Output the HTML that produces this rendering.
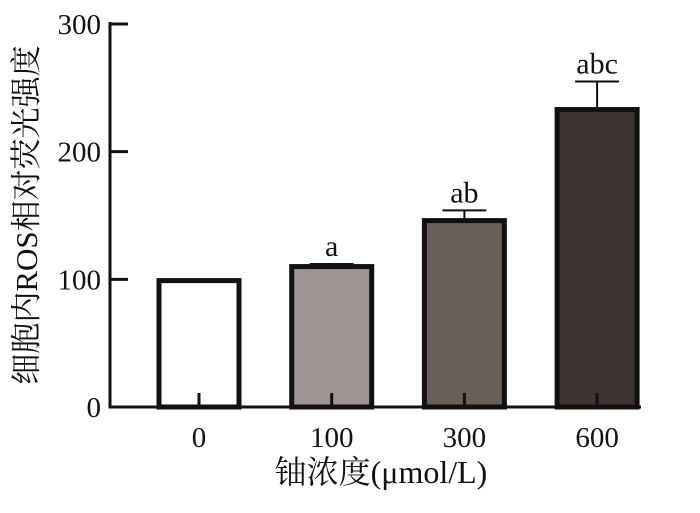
<!DOCTYPE html>
<html><head><meta charset="utf-8"><style>
body{margin:0;background:#fff;}
svg text{font-family:"Liberation Serif","Noto Serif CJK SC",serif;fill:#111;}
</style></head><body>
<svg width="700" height="508" id="chart"></svg>
<script>
const categories=["0","100","300","600"];
const values=[99,110,146,233];
const errors=[0,2,8,22];
const sigLabels=["","a","ab","abc"];
const yTicks=[0,100,200,300];
const fills=["#ffffff","#9d9594","#6a5f5b","#3b3431"];
const NS="http://www.w3.org/2000/svg";
const svg=document.getElementById('chart');
function y(v){return 407-v*(383/300);}
function xc(i){return 199+i*132.7;}
function mk(t,a,txt){const e=document.createElementNS(NS,t);for(const k in a)e.setAttribute(k,a[k]);if(txt!==undefined)e.textContent=txt;svg.appendChild(e);return e;}
categories.forEach((c,i)=>{
 const cx=xc(i),w=80;
 const b=mk('rect',{x:cx-w/2,y:y(values[i]),width:w,height:407-y(values[i]),fill:fills[i],stroke:'#111','stroke-width':5});
 
 
 if(errors[i]>0){
  const g=mk('g',{stroke:'#111','stroke-width':2});
  
  
  const l1=document.createElementNS(NS,'line');l1.setAttribute('x1',cx);l1.setAttribute('x2',cx);l1.setAttribute('y1',y(values[i]));l1.setAttribute('y2',y(values[i]+errors[i]));g.appendChild(l1);
  const l2=document.createElementNS(NS,'line');l2.setAttribute('x1',cx-22);l2.setAttribute('x2',cx+22);l2.setAttribute('y1',y(values[i]+errors[i]));l2.setAttribute('y2',y(values[i]+errors[i]));g.appendChild(l2);
 }
 if(sigLabels[i]){
  const s=mk('text',{x:cx,y:y(values[i]+errors[i])-8,'text-anchor':'middle','font-size':30},sigLabels[i]);
  
  
 }
 const tk=mk('line',{x1:cx,x2:cx,y1:407,y2:393,stroke:'#111','stroke-width':3});
 
 
 const tl=mk('text',{x:cx,y:447,'text-anchor':'middle','font-size':29},c);
 
 
});
yTicks.forEach(v=>{
 const t=mk('line',{x1:110,x2:128,y1:y(v),y2:y(v),stroke:'#111','stroke-width':3});
 
 
 const l=mk('text',{x:101,y:y(v)+10,'text-anchor':'end','font-size':29},String(v));
 
 
});
const ya=mk('line',{x1:110,x2:110,y1:22,y2:408.5,stroke:'#111','stroke-width':3});


const xa=mk('line',{x1:108.5,x2:641,y1:407,y2:407,stroke:'#111','stroke-width':3});


const xt=mk('text',{x:381,y:483,'text-anchor':'middle','font-size':32},'铀浓度(μmol/L)');


const yt=mk('text',{x:0,y:0,'text-anchor':'middle','font-size':31,transform:'translate(37,215) rotate(-90)'},'细胞内ROS相对荧光强度');


</script>
</body></html>
